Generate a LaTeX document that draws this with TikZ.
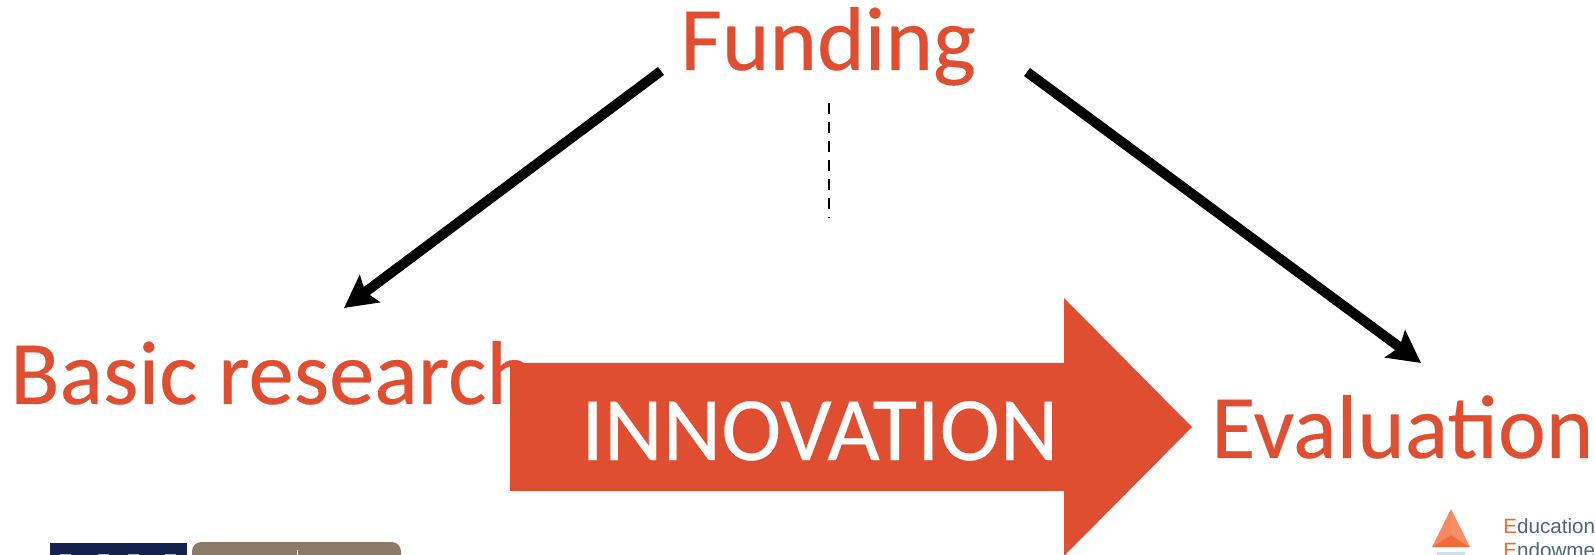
\documentclass[tikz,border=0pt]{standalone}
\usepackage{fontspec}
\usepackage{tikz}
\usetikzlibrary{arrows.meta}
\setmainfont[RawFeature={embolden=0.25}]{Carlito}
\newfontfamily\logofont{Liberation Sans}
\definecolor{fundred}{HTML}{E04E31}
\definecolor{logonavy}{HTML}{14214F}
\definecolor{logotan}{HTML}{8C7A66}
\definecolor{logoslate}{HTML}{4F6577}
\definecolor{logoorange}{HTML}{F26A36}
\definecolor{logoblue}{HTML}{CFE0EA}
\tikzset{
  bigword/.style={anchor=base west,inner sep=0pt,text=fundred,font=\fontsize{68}{72}\selectfont},
  logoword/.style={anchor=base west,inner sep=0pt,text=logoslate,font=\logofont\fontsize{15.5}{17}\selectfont},
  fundarrow/.style={line width=7.5pt,-{Stealth[length=24pt,width=25pt,inset=4pt]}}
}

\begin{document}
\begin{tikzpicture}[x=0.75pt,y=-0.75pt]
    \useasboundingbox (0,0) rectangle (1595,555);
    \clip (0,0) rectangle (1595,555);
    % big arrow
    \fill[fundred] (510,363) -- (1064,363) -- (1064,298) -- (1192,427) --
    (1064,556) -- (1064,491) -- (510,491) -- cycle;
    \node[bigword] (funding) at (680,70) {Funding};
    \node[bigword] (basic) at (10,404) {Basic research};
    \node[bigword] (evaluation) at (1211,458) {Evaluation};
    \node[bigword,text=white] (innovation) at (581,460) {INNOVATION};
    % arrows out of funding
    \coordinate (leftstart) at (661,71);
    \coordinate (leftend) at (344,308);
    \coordinate (rightstart) at (1027,72);
    \coordinate (rightend) at (1421,363);
    \draw[fundarrow] (leftstart) -- (leftend);
    \draw[fundarrow] (rightstart) -- (rightend);
    \coordinate (dashtop) at (829,103);
    \coordinate (dashend) at (829,218);
    \draw[line width=2.2pt,dash pattern=on 8.2pt off 6pt] (dashtop) -- (dashend);
    % logos, cut by the lower edge
    \fill[logonavy] (50,543) rectangle (187,560);
    \foreach \x in {60,98,128,165} \fill[white!70!logonavy] (\x,553.5) rectangle (\x+11,560);
    \fill[logotan,rounded corners=7pt] (192,542) rectangle (401,580);
    \fill[white] (296.5,550) rectangle (298,560);
    \fill[logoorange!75!white] (1451,509) -- (1470,547) -- (1451,535) -- cycle;
    \fill[logoorange!80!white] (1451,509) -- (1432,547) -- (1451,535) -- cycle;
    \fill[logoorange] (1432,547) -- (1451,535) -- (1470,547) -- cycle;
    \fill[logoblue] (1437,552) rectangle (1465,560);
    \node[logoword] (education) at (1503,533) {\textcolor{logoorange}{E}ducation};
    \node[logoword] (endowment) at (1503,557) {\textcolor{logoorange}{E}ndowment};
  \end{tikzpicture}
\end{document}
